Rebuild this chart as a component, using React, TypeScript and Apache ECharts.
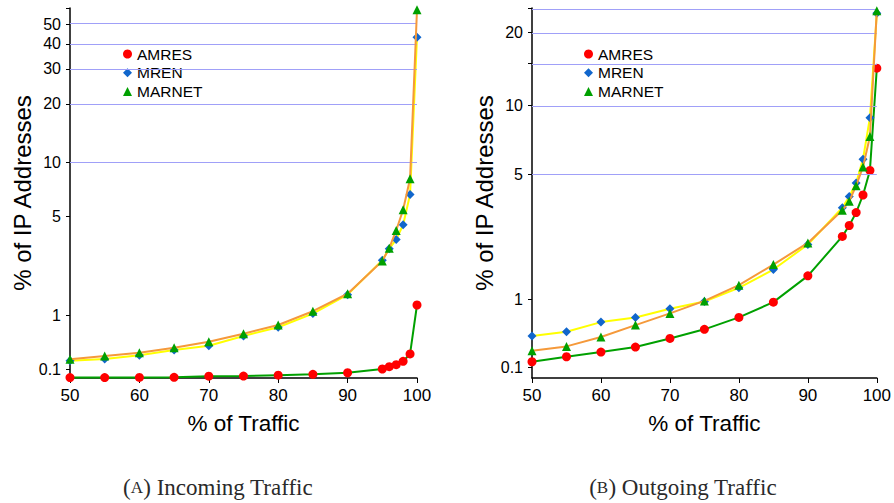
import React, { useEffect, useRef } from "react";
import * as echarts from "echarts";

const traffic = [50, 55, 60, 65, 70, 75, 80, 85, 90, 95, 96, 97, 98, 99, 100];

const inAMRES = [0.005, 0.005, 0.006, 0.007, 0.02, 0.022, 0.032, 0.042, 0.06, 0.105, 0.134, 0.16, 0.204, 0.306, 1.25];
const inMREN = [0.212, 0.236, 0.288, 0.365, 0.432, 0.595, 0.758, 1.045, 1.525, 2.7, 3.2, 3.66, 4.49, 6.68, 43.1];
const inMARNET = [0.231, 0.277, 0.325, 0.4, 0.497, 0.636, 0.803, 1.1, 1.55, 2.67, 3.23, 4.15, 5.48, 8.15, 58.9];

const outAMRES = [0.154, 0.206, 0.257, 0.313, 0.417, 0.535, 0.705, 0.95, 1.458, 2.48, 2.83, 3.29, 4.01, 5.22, 14.3];
const outMREN = [0.447, 0.502, 0.636, 0.705, 0.839, 0.962, 1.212, 1.599, 2.24, 3.48, 3.94, 4.57, 5.87, 8.89, 23.8];
const outMARNET = [0.271, 0.321, 0.434, 0.593, 0.766, 0.972, 1.264, 1.716, 2.285, 3.38, 3.74, 4.44, 5.41, 7.39, 24.4];

const leftLabelTicks = [0.1, 1, 5, 10, 20, 30, 40, 50];
const leftExtraTicks = [60];
const leftGridLines = [10, 20, 30, 40, 50, 60];
const leftMax = 60;

const rightLabelTicks = [0.1, 1, 5, 10, 20];
const rightExtraTicks = [15, 25];
const rightGridLines = [5, 10, 15, 20, 25];
const rightMax = 25;

const seriesNames = ["AMRES", "MREN", "MARNET"];
const captions = ["Incoming Traffic", "Outgoing Traffic"];
const captionLetters = ["A", "B"];

const t = (v: number) => Math.log10(1 + v);
const inv = (y: number) => Math.round((Math.pow(10, y) - 1) * 10) / 10;

const SANS = "'Liberation Sans', Arial, sans-serif";
const SERIF = "'Liberation Serif', 'DejaVu Serif', serif";

const markerColors = ["#ff0000", "#1166cc", "#00a000"];
const lineColors = ["#00a000", "#ffff00", "#f5993a"];
const symbols = ["circle", "diamond", "triangle"];
const symbolSizes = [9, 9, 9];
const gridColor = "#a0a0f8";

export default function App() {
  const ref = useRef<HTMLDivElement>(null);
  useEffect(() => {
    if (!ref.current) return;
    const chart = echarts.init(ref.current, null, { renderer: "svg" });

    const grids = [
      { left: 70, top: 8, width: 347, height: 370 },
      { left: 532, top: 8, width: 347, height: 370 },
    ];

    const mkX = (i: number) => ({
      type: "value",
      gridIndex: i,
      min: 50,
      max: 100,
      interval: 10,
      name: "% of Traffic",
      nameLocation: "middle",
      nameGap: 34,
      nameTextStyle: { fontFamily: SANS, fontSize: 22.5, color: "#000" },
      axisLine: { show: true, lineStyle: { color: "#000", width: 1.5 } },
      axisTick: { show: true, length: 5, lineStyle: { color: "#000" } },
      axisLabel: { fontFamily: SANS, fontSize: 17, color: "#000", margin: 9 },
      splitLine: { show: false },
    });

    const mkY = (i: number, max: number, labels: number[], extra: number[]) => ({
      type: "value",
      gridIndex: i,
      min: 0,
      max: t(max),
      name: "% of IP Addresses",
      nameLocation: "middle",
      nameGap: 30,
      nameTextStyle: { fontFamily: SANS, fontSize: 24, color: "#000" },
      axisLine: { show: true, lineStyle: { color: "#000", width: 1.5 } },
      axisTick: {
        show: true,
        length: 4,
        lineStyle: { color: "#000" },
        customValues: labels.concat(extra).map(t),
      },
      axisLabel: {
        fontFamily: SANS,
        fontSize: 16,
        color: "#000",
        margin: 9,
        customValues: labels.map(t),
        formatter: (v: number) => String(inv(v)),
      },
      splitLine: { show: false },
    });

    const datasets = [
      [inAMRES, inMREN, inMARNET],
      [outAMRES, outMREN, outMARNET],
    ];
    const gridLineSets = [leftGridLines, rightGridLines];

    const series: any[] = [];
    [0, 1].forEach((g) => {
      series.push({
        type: "line",
        xAxisIndex: g,
        yAxisIndex: g,
        data: [],
        z: 1,
        silent: true,
        markLine: {
          silent: true,
          symbol: "none",
          label: { show: false },
          lineStyle: { color: gridColor, width: 1, type: "solid" },
          data: gridLineSets[g].map((v) => ({ yAxis: t(v) })),
        },
      });
      datasets[g].forEach((vals, k) => {
        series.push({
          type: "line",
          name: seriesNames[k],
          xAxisIndex: g,
          yAxisIndex: g,
          z: 3 + k,
          data: traffic.map((x, j) => [x, t(vals[j])]),
          symbol: symbols[k],
          symbolSize: symbolSizes[k],
          showAllSymbol: true,
          itemStyle: { color: markerColors[k] },
          lineStyle: { color: lineColors[k], width: 2 },
        });
      });
    });

    const legendData = seriesNames.map((n, k) => ({
      name: n,
      icon: symbols[k],
      itemStyle: { color: markerColors[k] },
    }));

    const mkLegend = (left: number) => ({
      orient: "vertical",
      left,
      top: 41,
      padding: 5,
      itemWidth: 9,
      itemHeight: 9,
      itemGap: 2.7,
      selectedMode: false,
      data: legendData,
      textStyle: { fontFamily: SANS, fontSize: 15.5, color: "#000", lineHeight: 16 },
    });

    const captionGraphic = [0, 1].map((i) => ({
      type: "text",
      x: [218, 683][i],
      y: 487,
      style: {
        text: "({sc|" + captionLetters[i] + "}) " + captions[i],
        rich: { sc: { fontSize: 17, fontFamily: SERIF, fill: "#2a2a2a" } },
        fontFamily: SERIF,
        fontSize: 23,
        fill: "#2a2a2a",
        align: "center",
        verticalAlign: "middle",
      },
    }));

    chart.setOption({
      animation: false,
      backgroundColor: "#fff",
      grid: grids,
      xAxis: [mkX(0), mkX(1)],
      yAxis: [
        mkY(0, leftMax, leftLabelTicks, leftExtraTicks),
        mkY(1, rightMax, rightLabelTicks, rightExtraTicks),
      ],
      legend: [mkLegend(118), mkLegend(579)],
      series,
      graphic: captionGraphic,
    });
    return () => chart.dispose();
  }, []);
  return (
    <div
      ref={ref}
      style={{ position: "fixed", left: 0, top: 0, width: 894, height: 503, background: "#fff" }}
    />
  );
}
